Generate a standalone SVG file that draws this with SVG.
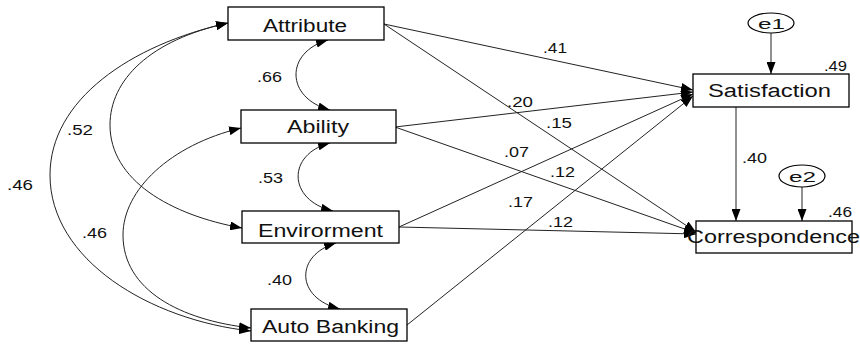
<svg xmlns="http://www.w3.org/2000/svg" width="860" height="345" viewBox="0 0 860 345">
<defs>
<marker id="ah" markerUnits="userSpaceOnUse" markerWidth="12" markerHeight="9" refX="12" refY="4.5" orient="auto-start-reverse">
<path d="M0,0 L12,4.5 L0,9 z" fill="#000"/>
</marker>
<style>
.box{fill:#fff;stroke:#000;stroke-width:1.3}
.lbl{font-family:"Liberation Sans",Arial,sans-serif;font-size:18px;fill:#111}
.num{font-family:"Liberation Sans",Arial,sans-serif;font-size:14px;fill:#111}
.p{fill:none;stroke:#222;stroke-width:1;marker-end:url(#ah)}
.cv{fill:none;stroke:#222;stroke-width:1;marker-start:url(#ah);marker-end:url(#ah)}
.el{fill:#fff;stroke:#000;stroke-width:1.2}
</style>
</defs>
<rect width="860" height="345" fill="#fff"/>
<g id="connectors">
<path class="p" d="M384 24 L693 90"/>
<path class="p" d="M384 24 L696 232"/>
<path class="p" d="M395 127 L693 92"/>
<path class="p" d="M395 127 L696 233"/>
<path class="p" d="M399 227 L693 94"/>
<path class="p" d="M399 227 L696 234"/>
<path class="p" d="M407 325 L693 96"/>
<path class="p" d="M736 107 L736 221"/>
<path class="p" d="M771 33 L771 74"/>
<path class="p" d="M802 187 L802 221"/>
<path class="cv" d="M328 40 C285 52, 285 98, 330 110"/>
<path class="cv" d="M330 143 C287 154, 287 200, 333 211"/>
<path class="cv" d="M336 243 C295 255, 295 298, 340 309"/>
<path class="cv" d="M228 23 C130 45, 50 100, 50 175 C50 260, 150 320, 251 331"/>
<path class="cv" d="M228 23 C150 40, 110 80, 110 125 C110 180, 170 215, 242 228"/>
<path class="cv" d="M241 128 C170 145, 123 190, 123 235 C123 290, 180 320, 251 328"/>
</g>
<g id="attribute"><rect class="box" x="228" y="7" width="156" height="33"/><text class="lbl" x="263" y="32" textLength="84" lengthAdjust="spacingAndGlyphs">Attribute</text></g>
<g id="ability"><rect class="box" x="241" y="110" width="155" height="33"/><text class="lbl" x="287" y="133" textLength="62" lengthAdjust="spacingAndGlyphs">Ability</text></g>
<g id="envirorment"><rect class="box" x="242" y="211" width="157" height="32"/><text class="lbl" x="258" y="237" textLength="125" lengthAdjust="spacingAndGlyphs">Envirorment</text></g>
<g id="autobanking"><rect class="box" x="251" y="309" width="156" height="32"/><text class="lbl" x="262" y="333" textLength="137" lengthAdjust="spacingAndGlyphs">Auto Banking</text></g>
<g id="satisfaction"><rect class="box" x="693" y="74" width="156" height="33"/><text class="lbl" x="708" y="97" textLength="123" lengthAdjust="spacingAndGlyphs">Satisfaction</text></g>
<g id="correspondence"><rect class="box" x="696" y="221" width="156" height="32"/><text class="lbl" x="687" y="243" textLength="173" lengthAdjust="spacingAndGlyphs">Correspondence</text></g>
<g id="e1"><ellipse class="el" cx="771" cy="23" rx="23" ry="10"/><text class="num" x="758" y="29" font-size="15" textLength="27" lengthAdjust="spacingAndGlyphs">e1</text></g>
<g id="e2"><ellipse class="el" cx="802" cy="176" rx="23" ry="11"/><text class="num" x="789" y="182" font-size="15" textLength="27" lengthAdjust="spacingAndGlyphs">e2</text></g>
<g id="labels">
<text class="num" x="543" y="53" textLength="24" lengthAdjust="spacingAndGlyphs">.41</text>
<text class="num" x="824" y="71" textLength="23" lengthAdjust="spacingAndGlyphs">.49</text>
<text class="num" x="507" y="107" textLength="26" lengthAdjust="spacingAndGlyphs">.20</text>
<text class="num" x="546" y="128" textLength="26" lengthAdjust="spacingAndGlyphs">.15</text>
<text class="num" x="504" y="157" textLength="25" lengthAdjust="spacingAndGlyphs">.07</text>
<text class="num" x="550" y="177" textLength="25" lengthAdjust="spacingAndGlyphs">.12</text>
<text class="num" x="742" y="163" textLength="25" lengthAdjust="spacingAndGlyphs">.40</text>
<text class="num" x="828" y="217" textLength="24" lengthAdjust="spacingAndGlyphs">.46</text>
<text class="num" x="508" y="207" textLength="25" lengthAdjust="spacingAndGlyphs">.17</text>
<text class="num" x="548" y="227" textLength="25" lengthAdjust="spacingAndGlyphs">.12</text>
<text class="num" x="257" y="82" textLength="25" lengthAdjust="spacingAndGlyphs">.66</text>
<text class="num" x="67" y="135" textLength="26" lengthAdjust="spacingAndGlyphs">.52</text>
<text class="num" x="258" y="183" textLength="25" lengthAdjust="spacingAndGlyphs">.53</text>
<text class="num" x="7" y="190" textLength="26" lengthAdjust="spacingAndGlyphs">.46</text>
<text class="num" x="82" y="238" textLength="25" lengthAdjust="spacingAndGlyphs">.46</text>
<text class="num" x="267" y="285" textLength="25" lengthAdjust="spacingAndGlyphs">.40</text>
</g>
</svg>
